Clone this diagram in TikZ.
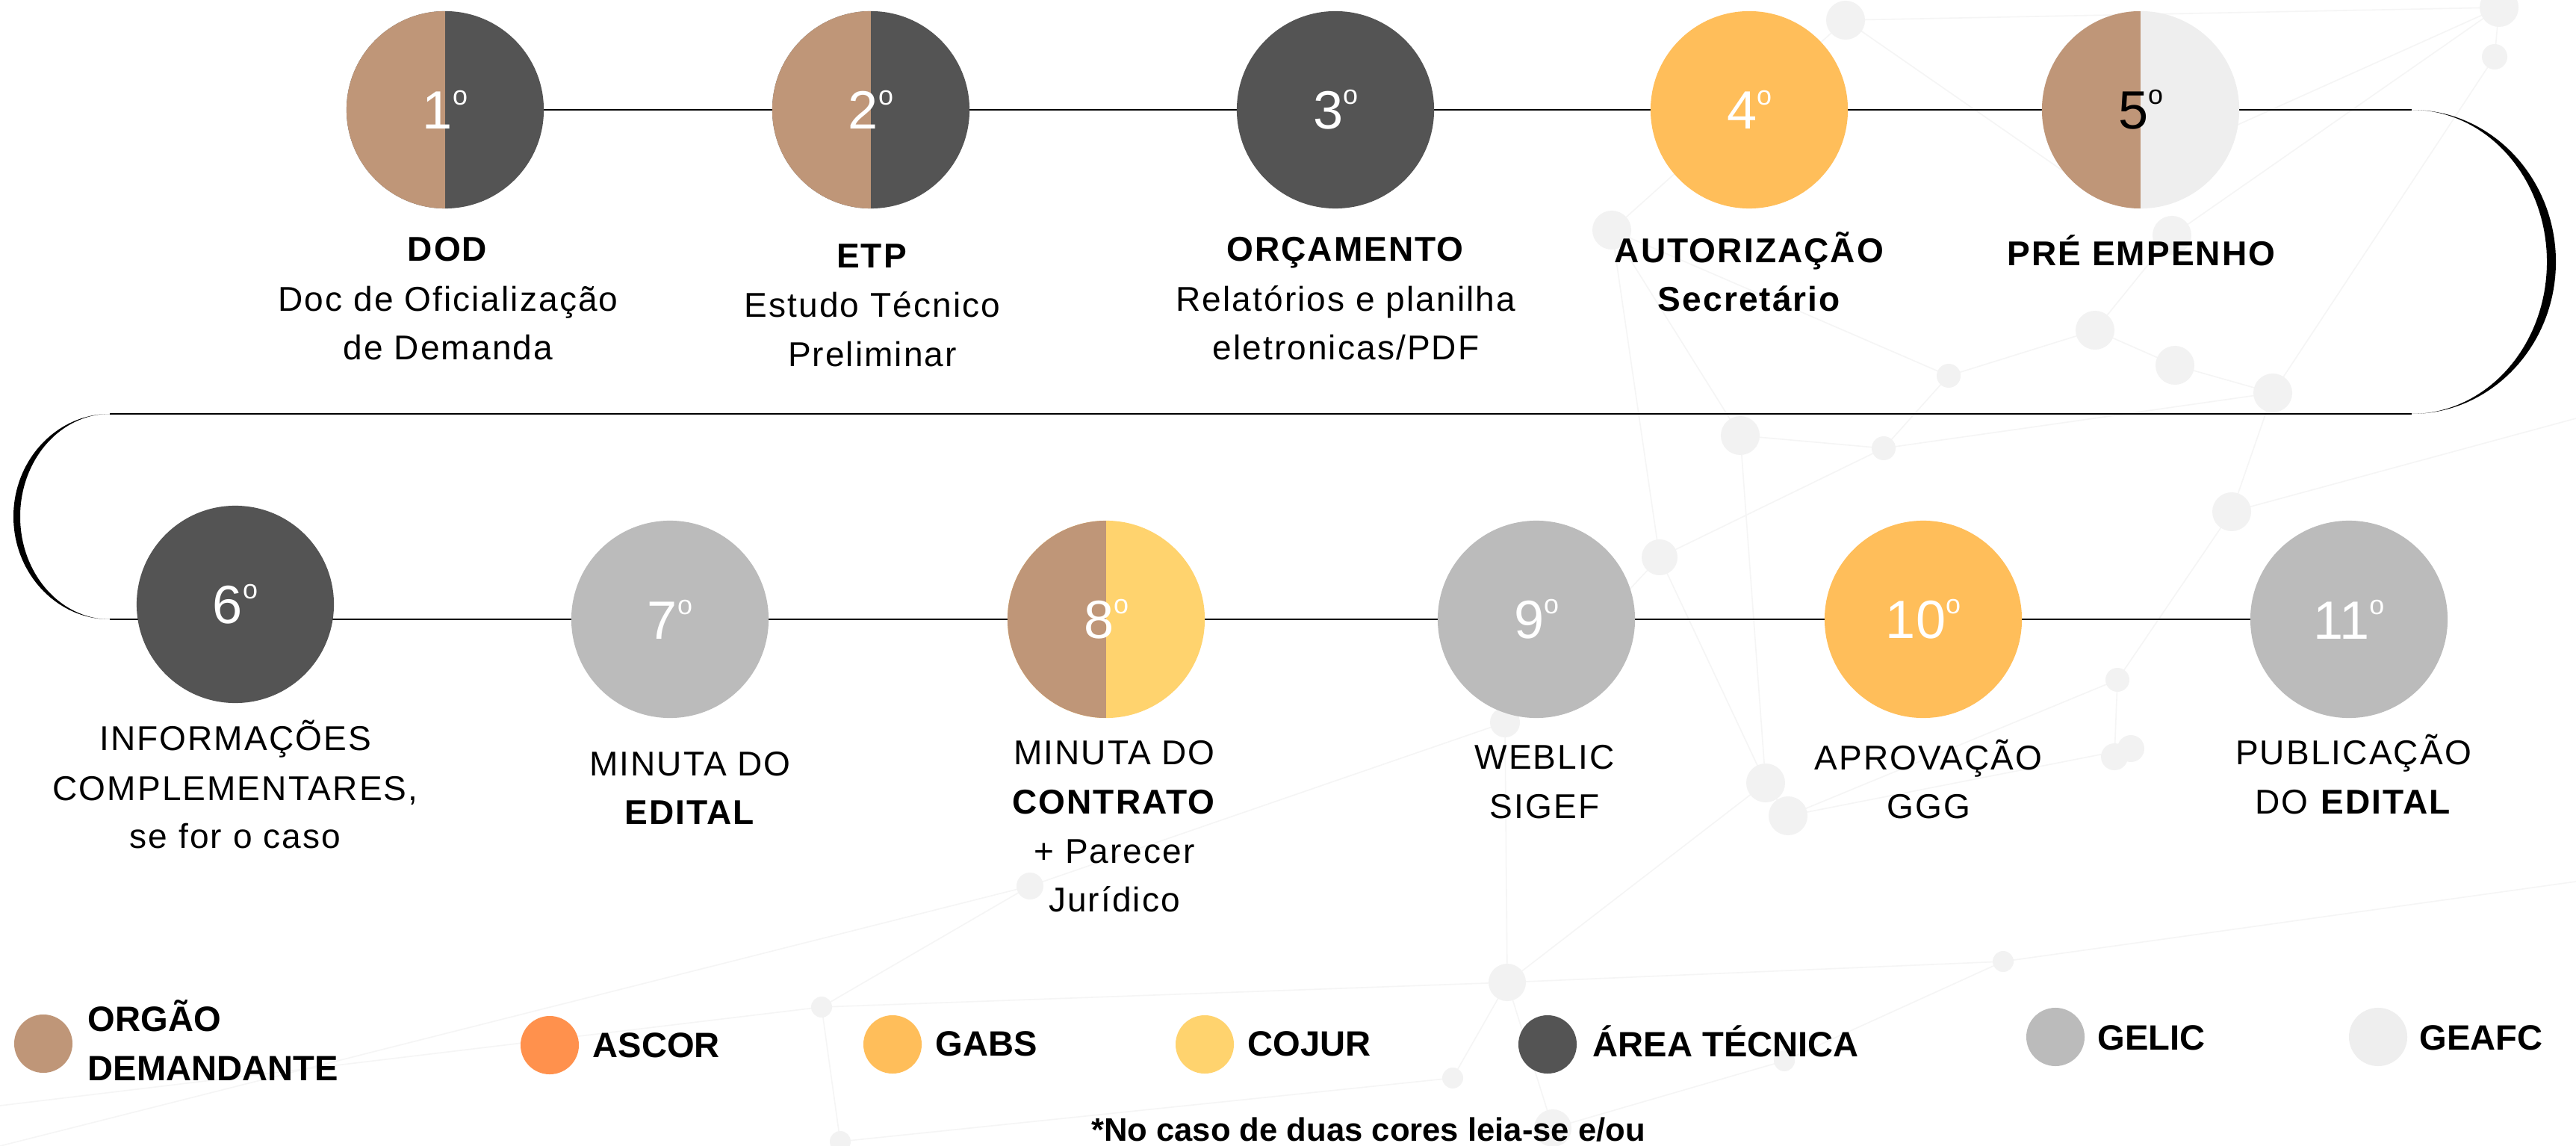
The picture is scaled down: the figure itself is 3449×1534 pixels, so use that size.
\documentclass[tikz,border=0pt]{standalone}
\usepackage{fontspec}
\setmainfont{Liberation Sans}
\newfontfamily\txtf{Liberation Sans}[LetterSpace=4.5]
\usetikzlibrary{calc}
\pgfdeclarelayer{deco}
\pgfdeclarelayer{lines}
\pgfsetlayers{deco,lines,main}
\definecolor{cTan}{HTML}{BF9678}
\definecolor{cDark}{HTML}{545454}
\definecolor{cGold}{HTML}{FFBE5A}
\definecolor{cYel}{HTML}{FFD36E}
\definecolor{cOra}{HTML}{FF914D}
\definecolor{cGrey}{HTML}{BBBBBB}
\definecolor{cLight}{HTML}{EEEEEE}
\definecolor{cDeco}{HTML}{F2F2F2}
\definecolor{cDecoL}{HTML}{F5F5F5}
\newcommand\numf{\fontsize{20.5pt}{20.5pt}\selectfont}
\newcommand\lblf{\txtf\fontsize{13.1pt}{18.5pt}\selectfont}
\newcommand\legf{\bfseries\fontsize{13.4pt}{18.8pt}\selectfont}
\newcommand\notef{\bfseries\fontsize{12.4pt}{16pt}\selectfont}
\newcommand\ord{\raisebox{9.3pt}{\fontsize{10.2pt}{10.2pt}\selectfont o}}
\tikzset{
  stepc/.style={circle, minimum size=2.64cm, inner sep=0pt, font=\numf, text=white},
  half/.style 2 args={fill=#2, path picture={\fill[#1] (path picture bounding box.south west) rectangle (path picture bounding box.north);}},
  conn/.style={line width=0.8pt, black},
  arcfill/.style={fill=black},
  lbl/.style={anchor=base, inner sep=0pt, font=\lblf},
  legc/.style={circle, minimum size=0.78cm, inner sep=0pt},
  legt/.style={anchor=base west, inner sep=0pt, font=\legf},
  decoline/.style={draw=cDecoL, line width=0.45pt},
  decodot/.style={fill=cDeco}
}
\begin{document}
\begin{tikzpicture}[x=0.01cm, y=-0.01cm]
\path[use as bounding box] (0,0) rectangle (3449,1534);
\begin{pgfonlayer}{deco}
\fill[white] (0,0) rectangle (3449,1534);
% faint network background
\draw[decoline] (2471,27) -- (3346,10);
\draw[decoline] (2471,27) -- (2158,308) -- (2330,583) -- (2522,600) -- (3043,526);
\draw[decoline] (2471,27) -- (2800,255) -- (3346,10) -- (3340,76) -- (3043,526);
\draw[decoline] (2158,308) -- (2609,503) -- (2805,442) -- (2908,315) -- (3346,10);
\draw[decoline] (2805,442) -- (2912,489) -- (3043,526) -- (2988,685);
\draw[decoline] (2609,503) -- (2522,600) -- (2222,746) -- (2015,967) -- (2018,1315);
\draw[decoline] (2222,746) -- (2364,1048) -- (2394,1092) -- (2835,910) -- (2988,685);
\draw[decoline] (2394,1092) -- (2853,1002) -- (2831,1013) -- (2835,910);
\draw[decoline] (2018,1315) -- (1945,1443) -- (1125,1528) -- (1100,1348) -- (1379,1186) -- (2015,967);
\draw[decoline] (2018,1315) -- (2079,1510) -- (2389,1420) -- (2682,1287) -- (2018,1315);
\draw[decoline] (1100,1348) -- (2018,1315) -- (2364,1048);
\draw[decoline] (2330,583) -- (2364,1048);
\draw[decoline] (2158,308) -- (2222,746);
\draw[decoline] (2988,685) -- (3449,560);
\draw[decoline] (2682,1287) -- (3449,1180);
\draw[decoline] (1379,1186) -- (0,1534);
\draw[decoline] (1100,1348) -- (0,1480);
\foreach \x/\y/\r in {2471/27/26, 3346/10/26, 3340/76/17, 2158/308/26, 2805/442/26, 2912/489/26,
  3043/526/26, 2609/503/16, 2330/583/26, 2522/600/16, 2908/315/26, 2988/685/26, 2222/746/24,
  2015/967/20, 2364/1048/26, 2394/1092/26, 2835/910/16, 2831/1013/18, 2853/1002/18,
  2018/1315/25, 1945/1443/14, 2682/1287/14, 2079/1510/25, 2389/1420/14, 1100/1348/14,
  1125/1528/14, 1379/1186/18}
  \fill[decodot] (\x,\y) circle[radius=\r];
\end{pgfonlayer}

% step circles
\node[stepc, half={cTan}{cDark}] (c1) at (596,147) {1\ord};
\node[stepc, half={cTan}{cDark}] (c2) at (1166,147) {2\ord};
\node[stepc, fill=cDark] (c3) at (1788,147) {3\ord};
\node[stepc, fill=cGold] (c4) at (2342,147) {4\ord};
\node[stepc, half={cTan}{cLight}, text=black] (c5) at (2866,147) {5\ord};
\node[stepc, fill=cDark] (c6) at (315,809) {6\ord};
\node[stepc, fill=cGrey] (c7) at (897,829) {7\ord};
\node[stepc, half={cTan}{cYel}] (c8) at (1481,829) {8\ord};
\node[stepc, fill=cGrey] (c9) at (2057,829) {9\ord};
\node[stepc, fill=cGold] (c10) at (2575,829) {10\ord};
\node[stepc, fill=cGrey] (c11) at (3145,829) {11\ord};

% turn coordinates
\coordinate (ra) at (3229,147);
\coordinate (rm) at (3422,350.5);
\coordinate (rmi) at (3410,350.5);
\coordinate (rb) at (3229,554);
\coordinate (la) at (147,554);
\coordinate (lm) at (18,691.5);
\coordinate (lmi) at (27,691.5);
\coordinate (lb) at (147,829);

\begin{pgfonlayer}{lines}
\draw[conn] (c1.center) -- (c2.center) -- (c3.center) -- (c4.center) -- (c5.center) -- (ra);
\fill[arcfill] (ra) .. controls +(106.6,0) and +(0,-112.4) .. (rm)
  .. controls +(0,112.4) and +(106.6,0) .. (rb)
  .. controls +(100,0) and +(0,112.4) .. (rmi)
  .. controls +(0,-112.4) and +(100,0) .. (ra) -- cycle;
\draw[conn] (rb) -- (la);
\fill[arcfill] (la) .. controls +(-71.2,0) and +(0,-75.9) .. (lm)
  .. controls +(0,75.9) and +(-71.2,0) .. (lb)
  .. controls +(-66.3,0) and +(0,75.9) .. (lmi)
  .. controls +(0,-75.9) and +(-66.3,0) .. (la) -- cycle;
\draw[conn] (lb) -- (c7.center) -- (c8.center) -- (c9.center) -- (c10.center) -- (c11.center);
\end{pgfonlayer}

% labels, top row
\node[lbl] (t1a) at (600,350) {\textbf{DOD}};
\node[lbl] (t1b) at (600,417) {Doc de Oficialização};
\node[lbl] (t1c) at (600,482) {de Demanda};
\node[lbl] (t2a) at (1168,359) {\textbf{ETP}};
\node[lbl] (t2b) at (1168,425) {Estudo Técnico};
\node[lbl] (t2c) at (1168,491) {Preliminar};
\node[lbl] (t3a) at (1802,350) {\textbf{ORÇAMENTO}};
\node[lbl] (t3b) at (1802,417) {Relatórios e planilha};
\node[lbl] (t3c) at (1802,482) {eletronicas/PDF};
\node[lbl] (t4a) at (2343,352) {\textbf{AUTORIZAÇÃO}};
\node[lbl] (t4b) at (2343,417) {\textbf{Secretário}};
\node[lbl] (t5a) at (2868,356) {\textbf{PRÉ EMPENHO}};
% labels, bottom row
\node[lbl] (t6a) at (315,1004) {INFORMAÇÕES};
\node[lbl] (t6b) at (315,1071) {COMPLEMENTARES,};
\node[lbl] (t6c) at (315,1135) {se for o caso};
\node[lbl] (t7a) at (924,1038) {MINUTA DO};
\node[lbl] (t7b) at (924,1103) {\textbf{EDITAL}};
\node[lbl] (t8a) at (1492,1023) {MINUTA DO};
\node[lbl] (t8b) at (1492,1089) {\textbf{CONTRATO}};
\node[lbl] (t8c) at (1492,1155) {+ Parecer};
\node[lbl] (t8d) at (1492,1220) {Jurídico};
\node[lbl] (t9a) at (2068,1029) {WEBLIC};
\node[lbl] (t9b) at (2068,1095) {SIGEF};
\node[lbl] (t10a) at (2582,1030) {APROVAÇÃO};
\node[lbl] (t10b) at (2582,1095) {GGG};
\node[lbl] (t11a) at (3151,1023) {PUBLICAÇÃO};
\node[lbl] (t11b) at (3151,1089) {DO \textbf{EDITAL}};

% legend
\node[legc, fill=cTan] (l1) at (58,1397) {};
\node[legt] (l1a) at (117,1380) {ORGÃO};
\node[legt] (l1b) at (117,1446) {DEMANDANTE};
\node[legc, fill=cOra] (l2) at (736,1399) {};
\node[legt] (l2a) at (793,1415) {ASCOR};
\node[legc, fill=cGold] (l3) at (1195,1398) {};
\node[legt] (l3a) at (1252,1413) {GABS};
\node[legc, fill=cYel] (l4) at (1613,1398) {};
\node[legt] (l4a) at (1670,1413) {COJUR};
\node[legc, fill=cDark] (l5) at (2072,1398) {};
\node[legt] (l5a) at (2132,1414) {ÁREA TÉCNICA};
\node[legc, fill=cGrey] (l6) at (2752,1388) {};
\node[legt] (l6a) at (2808,1405) {GELIC};
\node[legc, fill=cLight] (l7) at (3184,1388) {};
\node[legt] (l7a) at (3239,1405) {GEAFC};

\node[anchor=base, inner sep=0pt, font=\notef] (note) at (1832,1527) {*No caso de duas cores leia-se e/ou};
\end{tikzpicture}
\end{document}
